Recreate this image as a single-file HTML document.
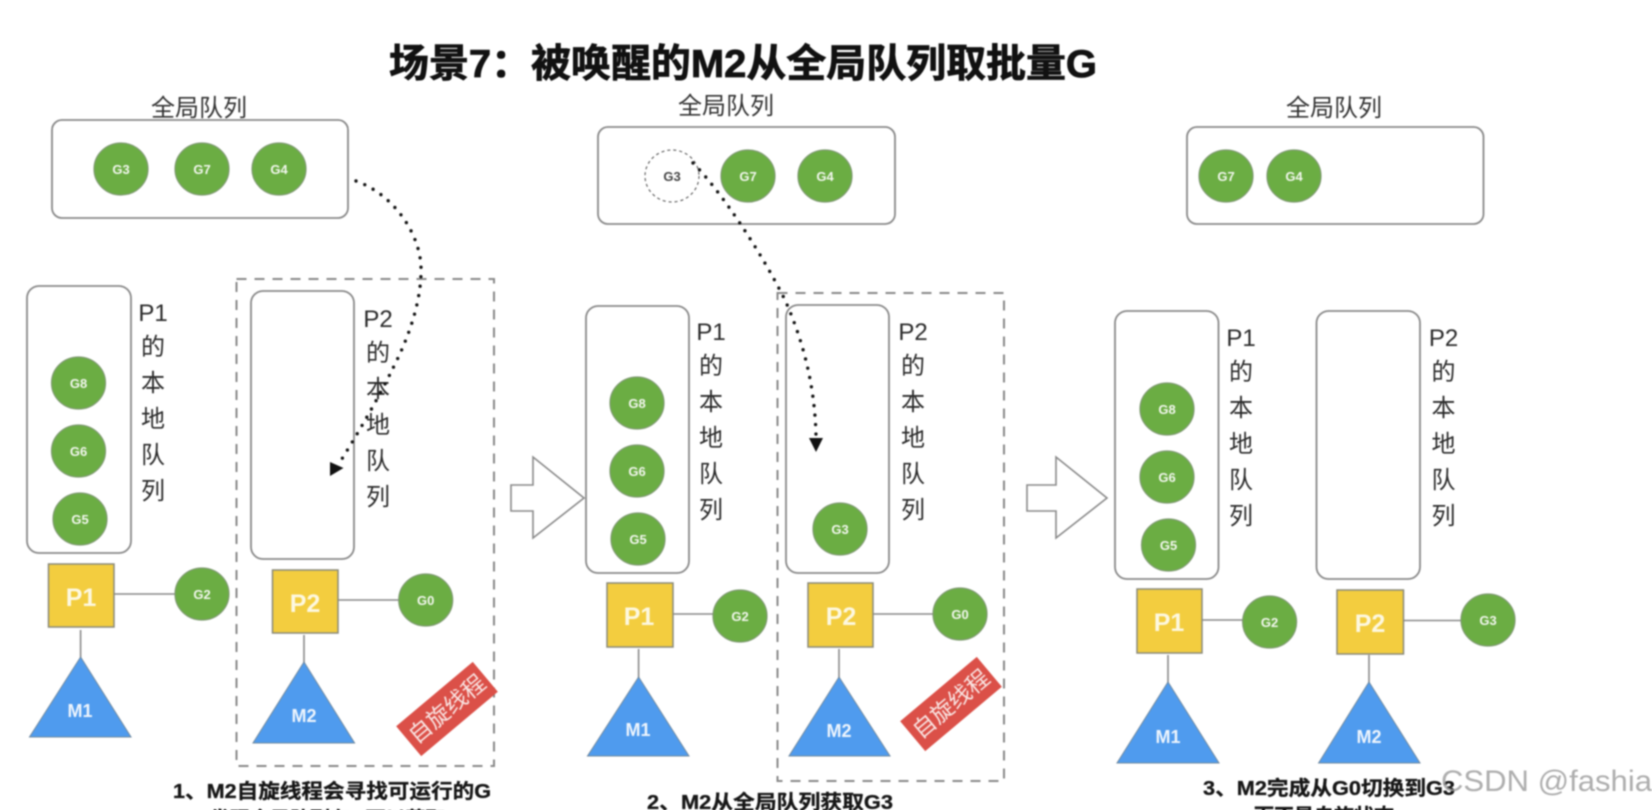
<!DOCTYPE html>
<html><head><meta charset="utf-8"><style>
html,body{margin:0;padding:0;background:#fff;width:1652px;height:810px;overflow:hidden}
svg{display:block}
text{font-family:"Liberation Sans","Noto Sans CJK SC",sans-serif}
.box{fill:#fff;stroke:#8a8a8a;stroke-width:1.8}
.dash{fill:none;stroke:#8a8a8a;stroke-width:2;stroke-dasharray:10 8}
.g{fill:#6bad43;stroke:#7f9a72;stroke-width:1.2}
.gt{fill:#f2f7ee;font-size:13px;font-weight:700;text-anchor:middle}
.p{fill:#f3cd3f;stroke:#8a8a7a;stroke-width:1.5}
.pt{fill:#fdf8e0;font-size:25px;font-weight:700;text-anchor:middle}
.m{fill:#4f9bee;stroke:#708aa0;stroke-width:1}
.mt{fill:#eef5fd;font-size:18px;font-weight:700;text-anchor:middle}
.l{stroke:#8a8a8a;stroke-width:1.6;fill:none}
.q{fill:#2b2b2b;font-size:24px;text-anchor:middle}
.lab{fill:#333;font-size:24px;text-anchor:middle}
.cap{fill:#161616;font-size:20px;font-weight:700;stroke:#161616;stroke-width:.3}
.dot{fill:none;stroke:#151515;stroke-width:3.4;stroke-linecap:round;stroke-dasharray:0 9.5}
.arr{fill:#fff;stroke:#8a8a8a;stroke-width:1.6}
.red{fill:#db5048}
.rt{fill:#f9e4e2;font-size:23px;text-anchor:middle}
</style></head><body>
<svg width="1652" height="810" viewBox="0 0 1652 810" xmlns="http://www.w3.org/2000/svg">
<g style="filter:blur(0.7px)">
<text x="389" y="77" font-size="39" font-weight="700" fill="#111" stroke="#111" stroke-width=".8" textLength="708" lengthAdjust="spacingAndGlyphs">场景7：被唤醒的M2从全局队列取批量G</text>

<!-- Panel 1 -->
<text class="lab" x="199" y="116">全局队列</text>
<rect class="box" x="52" y="120" width="296" height="98" rx="10"/>
<ellipse class="g" cx="121" cy="169" rx="27" ry="26"/><text class="gt" x="121" y="174">G3</text>
<ellipse class="g" cx="202" cy="169" rx="27" ry="26"/><text class="gt" x="202" y="174">G7</text>
<ellipse class="g" cx="279" cy="169" rx="27" ry="26"/><text class="gt" x="279" y="174">G4</text>

<rect class="dash" x="236.500" y="279" width="257.500" height="487"/>
<rect class="box" x="27" y="286" width="104" height="267" rx="12"/>
<ellipse class="g" cx="78.500" cy="383" rx="27" ry="26"/><text class="gt" x="78.500" y="388">G8</text>
<ellipse class="g" cx="78.500" cy="451" rx="27" ry="26"/><text class="gt" x="78.500" y="456">G6</text>
<ellipse class="g" cx="80" cy="519" rx="27" ry="26"/><text class="gt" x="80" y="524">G5</text>
<text class="q" x="153" y="321">P1</text><text class="q" x="153" y="355">的</text><text class="q" x="153" y="391">本</text><text class="q" x="153" y="427">地</text><text class="q" x="153" y="463">队</text><text class="q" x="153" y="499">列</text>

<line class="l" x1="114" y1="594" x2="176" y2="594"/>
<rect class="p" x="48.500" y="564" width="65.500" height="63"/><text class="pt" x="81" y="606">P1</text>
<ellipse class="g" cx="202" cy="594" rx="27" ry="26"/><text class="gt" x="202" y="599">G2</text>
<line class="l" x1="80.600" y1="630" x2="80.600" y2="658"/>
<polygon class="m" points="80.600,657 131,737 29.500,737"/><text class="mt" x="80" y="717">M1</text>

<rect class="box" x="251" y="291" width="103" height="268" rx="12"/>
<text class="q" x="378" y="327">P2</text><text class="q" x="378" y="361">的</text><text class="q" x="378" y="397">本</text><text class="q" x="378" y="433">地</text><text class="q" x="378" y="469">队</text><text class="q" x="378" y="505">列</text>
<line class="l" x1="338" y1="600" x2="400" y2="600"/>
<rect class="p" x="272.500" y="570" width="65.500" height="63"/><text class="pt" x="305" y="612">P2</text>
<ellipse class="g" cx="425.700" cy="600" rx="27" ry="26"/><text class="gt" x="425.700" y="605">G0</text>
<line class="l" x1="304" y1="635" x2="304" y2="663"/>
<polygon class="m" points="304,662 354.600,743 253,743"/><text class="mt" x="304" y="722">M2</text>
<g transform="translate(447 709) rotate(-40)"><rect class="red" x="-50" y="-19.500" width="100" height="39"/><text class="rt" x="0" y="8">自旋线程</text></g>
<path class="dot" d="M356 181 C395 195 420 235 421 267 C422 305 405 345 392 370 C380 395 360 430 340 462"/>
<polygon points="330,476 330,462 343.500,468" fill="#111"/>
<text class="cap" x="173" y="798" textLength="318" lengthAdjust="spacingAndGlyphs">1、M2自旋线程会寻找可运行的G</text>
<text class="cap" x="210" y="826" font-size="20">发现全局队列有G可以获取</text>

<!-- Arrow 1 -->
<polygon class="arr" points="511,485 533,485 533,457 584,498 533,538 533,511 511,511"/>

<!-- Panel 2 -->
<text class="lab" x="726" y="114">全局队列</text>
<rect class="box" x="598" y="127" width="297" height="97" rx="10"/>
<ellipse cx="672" cy="176" rx="27" ry="26" fill="#fff" stroke="#666" stroke-width="1.2" stroke-dasharray="3 3"/><text class="gt" style="fill:#444" x="672" y="181">G3</text>
<ellipse class="g" cx="748" cy="176" rx="27" ry="26"/><text class="gt" x="748" y="181">G7</text>
<ellipse class="g" cx="825" cy="176" rx="27" ry="26"/><text class="gt" x="825" y="181">G4</text>

<rect class="dash" x="777.500" y="293" width="226.500" height="488"/>
<rect class="box" x="586" y="306" width="103" height="267" rx="12"/>
<ellipse class="g" cx="637" cy="403" rx="27" ry="26"/><text class="gt" x="637" y="408">G8</text>
<ellipse class="g" cx="637" cy="471" rx="27" ry="26"/><text class="gt" x="637" y="476">G6</text>
<ellipse class="g" cx="638" cy="539" rx="27" ry="26"/><text class="gt" x="638" y="544">G5</text>
<text class="q" x="711" y="340">P1</text><text class="q" x="711" y="374">的</text><text class="q" x="711" y="410">本</text><text class="q" x="711" y="446">地</text><text class="q" x="711" y="482">队</text><text class="q" x="711" y="518">列</text>
<line class="l" x1="673" y1="614" x2="716" y2="614"/>
<rect class="p" x="607" y="583" width="66" height="64"/><text class="pt" x="639" y="625">P1</text>
<ellipse class="g" cx="740" cy="616" rx="27" ry="26"/><text class="gt" x="740" y="621">G2</text>
<line class="l" x1="638.600" y1="649" x2="638.600" y2="678"/>
<polygon class="m" points="638.600,677 689,756 587.500,756"/><text class="mt" x="638" y="736">M1</text>

<rect class="box" x="786" y="305" width="103" height="268" rx="12"/>
<ellipse class="g" cx="840" cy="529" rx="27" ry="26"/><text class="gt" x="840" y="534">G3</text>
<text class="q" x="913" y="340">P2</text><text class="q" x="913" y="374">的</text><text class="q" x="913" y="410">本</text><text class="q" x="913" y="446">地</text><text class="q" x="913" y="482">队</text><text class="q" x="913" y="518">列</text>
<line class="l" x1="873" y1="614" x2="934" y2="614"/>
<rect class="p" x="808" y="583" width="65" height="64"/><text class="pt" x="841" y="625">P2</text>
<ellipse class="g" cx="960" cy="614" rx="27" ry="26"/><text class="gt" x="960" y="619">G0</text>
<line class="l" x1="839" y1="649" x2="839" y2="678"/>
<polygon class="m" points="839,677 890,756 789,756"/><text class="mt" x="839" y="737">M2</text>
<g transform="translate(951 704) rotate(-40)"><rect class="red" x="-50" y="-19.500" width="100" height="39"/><text class="rt" x="0" y="8">自旋线程</text></g>
<path class="dot" d="M693 163 C720 190 760 250 785 300 C805 345 815 390 816 436"/>
<polygon points="809,438 823,438 816,452" fill="#111"/>
<text class="cap" x="647" y="809" textLength="246" lengthAdjust="spacingAndGlyphs">2、M2从全局队列获取G3</text>

<!-- Arrow 2 -->
<polygon class="arr" points="1027,485 1056,485 1056,457 1107,498 1056,538 1056,511 1027,511"/>

<!-- Panel 3 -->
<text class="lab" x="1334" y="116">全局队列</text>
<rect class="box" x="1187" y="127" width="296.500" height="97" rx="10"/>
<ellipse class="g" cx="1226" cy="176" rx="27" ry="26"/><text class="gt" x="1226" y="181">G7</text>
<ellipse class="g" cx="1294" cy="176" rx="27" ry="26"/><text class="gt" x="1294" y="181">G4</text>

<rect class="box" x="1115" y="311" width="103.500" height="268" rx="12"/>
<ellipse class="g" cx="1167" cy="409" rx="27" ry="26"/><text class="gt" x="1167" y="414">G8</text>
<ellipse class="g" cx="1167" cy="477" rx="27" ry="26"/><text class="gt" x="1167" y="482">G6</text>
<ellipse class="g" cx="1168.500" cy="545" rx="27" ry="26"/><text class="gt" x="1168.500" y="550">G5</text>
<text class="q" x="1241" y="346">P1</text><text class="q" x="1241" y="380">的</text><text class="q" x="1241" y="416">本</text><text class="q" x="1241" y="452">地</text><text class="q" x="1241" y="488">队</text><text class="q" x="1241" y="524">列</text>
<line class="l" x1="1202" y1="620" x2="1244" y2="620"/>
<rect class="p" x="1137" y="589" width="65" height="64"/><text class="pt" x="1169" y="631">P1</text>
<ellipse class="g" cx="1269.600" cy="622" rx="27" ry="26"/><text class="gt" x="1269.600" y="627">G2</text>
<line class="l" x1="1168" y1="655" x2="1168" y2="683"/>
<polygon class="m" points="1168,682 1219,763 1117,763"/><text class="mt" x="1168" y="743">M1</text>

<rect class="box" x="1316.500" y="311" width="103.500" height="268" rx="12"/>
<text class="q" x="1443.500" y="346">P2</text><text class="q" x="1443.500" y="380">的</text><text class="q" x="1443.500" y="416">本</text><text class="q" x="1443.500" y="452">地</text><text class="q" x="1443.500" y="488">队</text><text class="q" x="1443.500" y="524">列</text>
<line class="l" x1="1403" y1="620.500" x2="1462" y2="620.500"/>
<rect class="p" x="1337" y="590" width="66.500" height="64"/><text class="pt" x="1370" y="632">P2</text>
<ellipse class="g" cx="1488" cy="620" rx="27" ry="26"/><text class="gt" x="1488" y="625">G3</text>
<line class="l" x1="1369" y1="655" x2="1369" y2="683"/>
<polygon class="m" points="1369,682 1420,763 1318.600,763"/><text class="mt" x="1369" y="743">M2</text>
<text class="cap" x="1203" y="795" textLength="252" lengthAdjust="spacingAndGlyphs">3、M2完成从G0切换到G3</text>
<text class="cap" x="1254" y="823">而不是自旋状态</text>
<text x="1441" y="791" font-size="30" fill="#9a9a9a" fill-opacity="0.8" textLength="211" lengthAdjust="spacingAndGlyphs">CSDN @fashia</text>
</g>
</svg>
</body></html>
